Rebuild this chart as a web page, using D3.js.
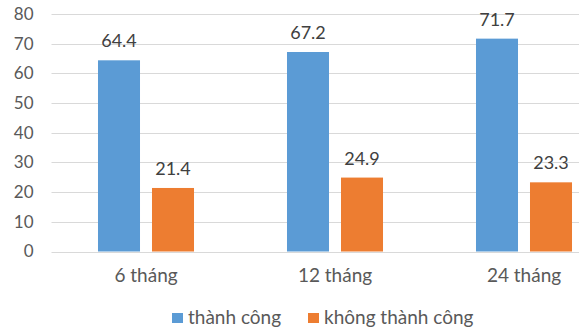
<!DOCTYPE html>
<html>
<head>
<meta charset="utf-8">
<script src="https://cdn.jsdelivr.net/npm/d3@7"></script>
<style>
  body { margin: 0; background: #fff; }
  svg { font-family: Lato, "Open Sans", sans-serif; }
</style>
</head>
<body>
<svg width="579" height="331"></svg>
<script>
// data
var categories = ["6 tháng", "12 tháng", "24 tháng"];
var seriesNames = ["thành công", "không thành công"];
var successValues = [64.4, 67.2, 71.7];
var failValues = [21.4, 24.9, 23.3];
var yTicks = [0, 10, 20, 30, 40, 50, 60, 70, 80];
var colors = ["#5b9bd5", "#ed7d31"];

var svg = d3.select("svg");

// plot area (right side runs past the window, like the source picture)
var plotLeft = 51.5, plotRight = 618.5, plotTop = 14, plotBottom = 251.5;

var x0 = d3.scaleBand().domain(categories).range([plotLeft, plotRight]).padding(0);
var x1 = d3.scaleBand().domain(seriesNames).range([0, x0.bandwidth()])
    .paddingInner(0.222).paddingOuter(0.861);
var y = d3.scaleLinear().domain([0, 80]).range([plotBottom, plotTop]);
var z = d3.scaleOrdinal().domain(seriesNames).range(colors);

var rows = categories.map(function (c, i) {
    return { cat: c, values: [
        { key: seriesNames[0], value: successValues[i] },
        { key: seriesNames[1], value: failValues[i] }
    ] };
});

// gridlines
svg.append("g")
    .selectAll("line")
    .data(yTicks)
    .enter().append("line")
    .attr("x1", plotLeft)
    .attr("x2", plotRight)
    .attr("y1", function (d) { return Math.round(y(d)) + 0.5; })
    .attr("y2", function (d) { return Math.round(y(d)) + 0.5; })
    .attr("stroke", "#d9d9d9")
    .attr("stroke-width", 1);

// y axis labels
var yAxis = svg.append("g")
    .attr("transform", "translate(" + plotLeft + ",0)")
    .call(d3.axisLeft(y).tickValues(yTicks).tickSize(0).tickPadding(18));
yAxis.select(".domain").remove();
yAxis.selectAll("text")
    .attr("fill", "#595959")
    .attr("font-size", 17)
    .attr("font-family", "Lato, sans-serif");

// bars
var groups = svg.append("g")
    .selectAll("g")
    .data(rows)
    .enter().append("g")
    .attr("transform", function (d) { return "translate(" + x0(d.cat) + ",0)"; });

groups.selectAll("rect")
    .data(function (d) { return d.values; })
    .enter().append("rect")
    .attr("x", function (d) { return x1(d.key); })
    .attr("y", function (d) { return y(d.value); })
    .attr("width", x1.bandwidth())
    .attr("height", function (d) { return plotBottom - y(d.value); })
    .attr("fill", function (d) { return z(d.key); });

// value labels
groups.selectAll("text")
    .data(function (d) { return d.values; })
    .enter().append("text")
    .attr("x", function (d) { return x1(d.key) + x1.bandwidth() / 2; })
    .attr("y", function (d) { return y(d.value) - 13; })
    .attr("text-anchor", "middle")
    .attr("fill", "#404040")
    .attr("font-size", 18)
    .text(function (d) { return d.value.toFixed(1); });

// x axis labels
var xAxis = svg.append("g")
    .attr("transform", "translate(0," + plotBottom + ")")
    .call(d3.axisBottom(x0).tickSize(0).tickPadding(17));
xAxis.select(".domain").remove();
xAxis.selectAll("text")
    .attr("fill", "#595959")
    .attr("font-size", 19)
    .attr("font-family", "Lato, sans-serif");

// legend
var legendX = [172, 308];
var legend = svg.append("g")
    .selectAll("g")
    .data(seriesNames)
    .enter().append("g")
    .attr("transform", function (d, i) { return "translate(" + legendX[i] + ",313)"; });

legend.append("rect")
    .attr("width", 11)
    .attr("height", 10)
    .attr("fill", z);

legend.append("text")
    .attr("x", 16)
    .attr("y", 4)
    .attr("dy", "0.35em")
    .attr("fill", "#595959")
    .attr("font-size", 19)
    .text(function (d) { return d; });
</script>
</body>
</html>
